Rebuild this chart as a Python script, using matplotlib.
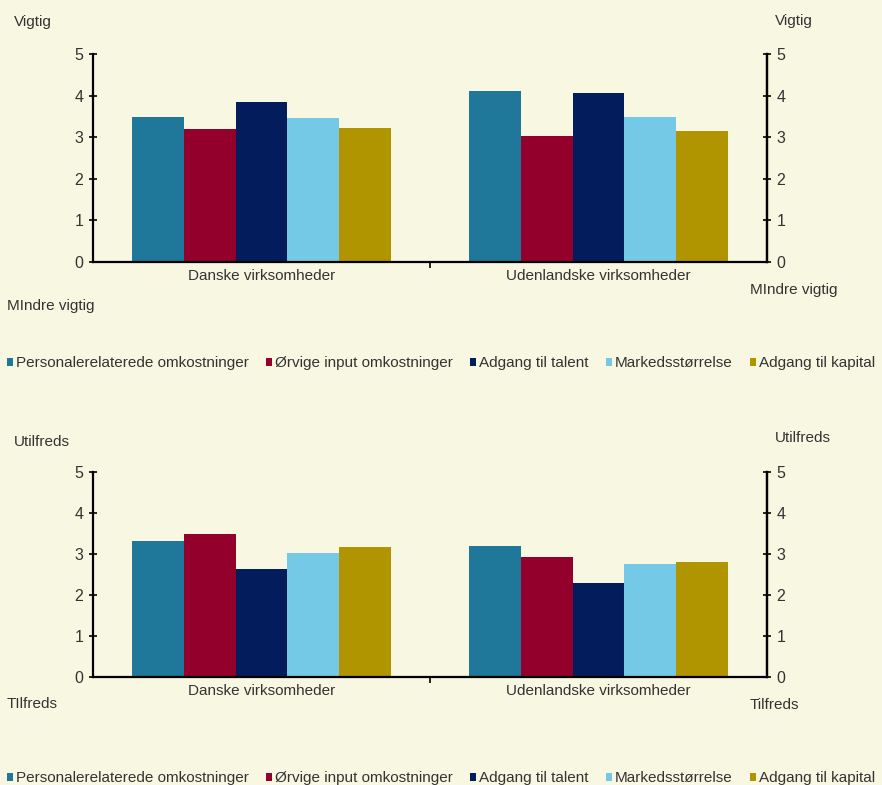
import matplotlib
matplotlib.use("Agg")
import matplotlib.pyplot as plt
from matplotlib.patches import Patch
import numpy as np

plt.rcParams['font.family'] = ['Liberation Sans', 'DejaVu Sans']

categories = ["Danske virksomheder", "Udenlandske virksomheder"]
series = ["Personalerelaterede omkostninger", "Ørvige input omkostninger",
          "Adgang til talent", "Markedsstørrelse", "Adgang til kapital"]
colors = ["#1F7799", "#92002B", "#031D5C", "#74C9E6", "#B09500"]

# importance (1-5)
importance = {
    "Personalerelaterede omkostninger": [3.48, 4.11],
    "Ørvige input omkostninger": [3.19, 3.03],
    "Adgang til talent": [3.85, 4.06],
    "Markedsstørrelse": [3.46, 3.48],
    "Adgang til kapital": [3.22, 3.15],
}
# satisfaction (1-5)
satisfaction = {
    "Personalerelaterede omkostninger": [3.31, 3.19],
    "Ørvige input omkostninger": [3.49, 2.93],
    "Adgang til talent": [2.63, 2.30],
    "Markedsstørrelse": [3.03, 2.75],
    "Adgang til kapital": [3.17, 2.80],
}
yticks = [0, 1, 2, 3, 4, 5]

BG = "#F8F7E2"
TXT = "#333333"

W, H = 882, 785
fig = plt.figure(figsize=(W / 100, H / 100), dpi=100, facecolor=BG)


def px_axes(x0, y_top, x1, y_bot):
    return fig.add_axes([x0 / W, 1 - y_bot / H, (x1 - x0) / W, (y_bot - y_top) / H])


def draw_panel(ax, data):
    ax.set_facecolor(BG)
    n = len(series)
    group_w = 0.77
    bw = group_w / n
    x = np.arange(len(categories))
    for i, s in enumerate(series):
        ax.bar(x - group_w / 2 + bw * (i + 0.5), data[s], width=bw,
               color=colors[i], edgecolor='none', zorder=2)
    ax.set_xlim(-0.5, len(categories) - 0.5)
    ax.set_ylim(0, 5)
    ax.set_yticks(yticks)
    ax.set_xticks([0.5])
    ax.set_xticklabels([])
    ax.tick_params(axis='x', direction='out', length=4, width=1.2, color='black')
    for j, c in enumerate(categories):
        ax.text(j, -0.17, c, ha='center', va='top', fontsize=11, color=TXT,
                transform=ax.transData)
    ax.spines['top'].set_visible(False)
    for sp in ['left', 'right', 'bottom']:
        ax.spines[sp].set_linewidth(1.6)
        ax.spines[sp].set_color('black')
    ax.tick_params(axis='y', direction='inout', length=6, width=1.2, color='black',
                   labelsize=11.5, labelcolor=TXT, pad=4)
    ax2 = ax.twinx()
    ax2.set_ylim(0, 5)
    ax2.set_yticks(yticks)
    ax2.tick_params(axis='y', direction='inout', length=6, width=1.2, color='black',
                    labelsize=11.5, labelcolor=TXT, pad=4)
    for sp in ['top', 'left', 'bottom']:
        ax2.spines[sp].set_visible(False)
    ax2.spines['right'].set_linewidth(1.6)
    return ax2


def legend(y_center):
    handles = [Patch(facecolor=c, edgecolor='none') for c in colors]
    fig.legend(handles, series, loc='center', bbox_to_anchor=(0.5, 1 - y_center / H),
               ncol=5, frameon=False, fontsize=11, handlelength=0.42, handleheight=0.42,
               handletextpad=0.2, columnspacing=1.1, labelcolor=TXT,
               borderaxespad=0, borderpad=0)


def corner(x, y, s):
    fig.text(x / W, 1 - y / H, s, ha='left', va='center', fontsize=11, color=TXT)


ax_top = px_axes(93, 54, 767, 262)
draw_panel(ax_top, importance)
corner(14, 22, "Vigtig")
corner(775, 21, "Vigtig")
corner(7, 306, "MIndre vigtig")
corner(750, 290, "MIndre vigtig")
legend(363)

ax_bot = px_axes(93, 471.7, 767, 677.3)
draw_panel(ax_bot, satisfaction)
corner(14, 442, "Utilfreds")
corner(775, 438, "Utilfreds")
corner(7, 704, "TIlfreds")
corner(750, 705, "Tilfreds")
legend(778)

fig.savefig("out.png", dpi=100, facecolor=BG)
